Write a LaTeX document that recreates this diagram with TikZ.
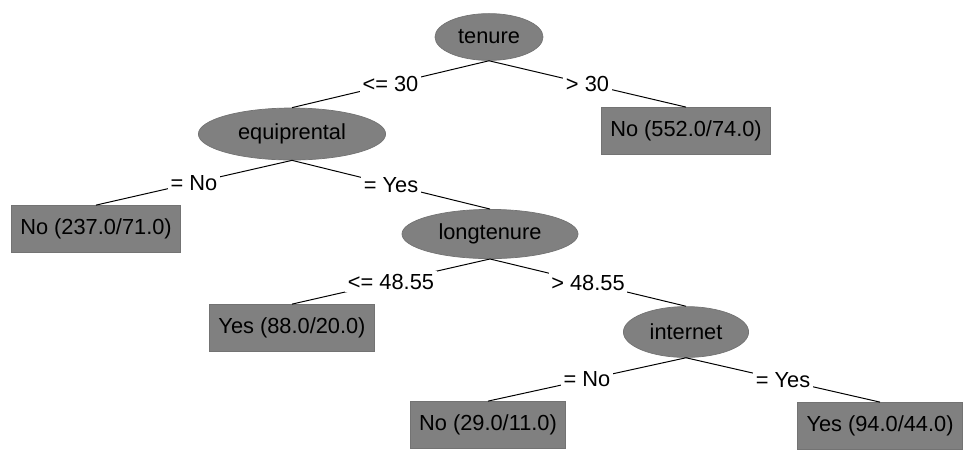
\documentclass[tikz,border=0pt]{standalone}
\usepackage{fontspec}
\setmainfont{Liberation Sans}
\usetikzlibrary{shapes.geometric}

\tikzset{
  split/.style={ellipse, fill=gray, draw=gray!90!black, line width=0.5pt, inner sep=0pt, font=\fontsize{15.5}{18}\selectfont},
  leaf/.style={rectangle, fill=gray, draw=black!55, line width=0.7pt, minimum height=1.17cm, inner xsep=0.22cm, font=\fontsize{15.5}{18}\selectfont},
  cond/.style={fill=white, inner sep=2pt, font=\fontsize{15.5}{18}\selectfont},
  branch/.style={line width=0.7pt}
}

\begin{document}
\begin{tikzpicture}[x=0.025cm, y=-0.025cm]
    \useasboundingbox (0,0) rectangle (964,450);

    % Split nodes
    \node[split, minimum width=2.7cm, minimum height=1.17cm] (tenure) at (489,37) {tenure};
    \node[split, minimum width=4.68cm, minimum height=1.3cm] (equip) at (292,134) {equiprental};
    \node[split, minimum width=4.4cm, minimum height=1.23cm] (longten) at (490,234) {longtenure};
    \node[split, minimum width=3.13cm, minimum height=1.27cm] (internet) at (686,332) {internet};

    % Leaves
    \node[leaf] (leafA) at (686,131) {No (552.0/74.0)};
    \node[leaf] (leafB) at (96,229) {No (237.0/71.0)};
    \node[leaf] (leafC) at (292,328) {Yes (88.0/20.0)};
    \node[leaf] (leafD) at (488,425) {No (29.0/11.0)};
    \node[leaf] (leafE) at (880,426) {Yes (94.0/44.0)};

    % Branches with their conditions
    \draw[branch] (tenure.south) -- node[cond] {<= 30} (equip.north);
    \draw[branch] (tenure.south) -- node[cond] {> 30} (leafA.north);
    \draw[branch] (equip.south) -- node[cond] {= No} (leafB.north);
    \draw[branch] (equip.south) -- node[cond] {= Yes} (longten.north);
    \draw[branch] (longten.south) -- node[cond] {<= 48.55} (leafC.north);
    \draw[branch] (longten.south) -- node[cond] {> 48.55} (internet.north);
    \draw[branch] (internet.south) -- node[cond] {= No} (leafD.north);
    \draw[branch] (internet.south) -- node[cond] {= Yes} (leafE.north);
\end{tikzpicture}
\end{document}
